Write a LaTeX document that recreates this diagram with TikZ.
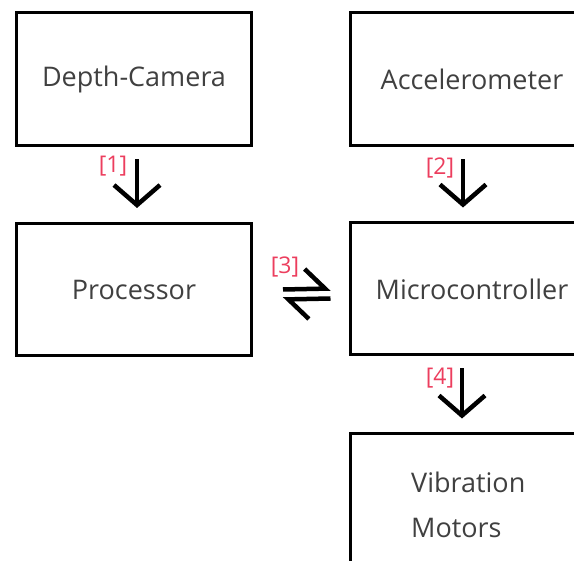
\documentclass[tikz,border=0pt]{standalone}
\usepackage{fontspec}
\setmainfont{Open Sans}
\usetikzlibrary{arrows.meta}
\definecolor{boxtext}{RGB}{64,64,64}
\definecolor{tagred}{RGB}{236,62,94}
\begin{document}
\begin{tikzpicture}[x=1pt,y=-1pt,
  block/.style={draw=black,line width=3pt,rectangle,inner sep=0pt,
    text=boxtext,font=\fontsize{27}{32}\selectfont},
  flow/.style={line width=4.5pt,-{Straight Barb[length=20pt,width=46pt]}},
  harp/.style={line width=4.5pt,-{Straight Barb[harpoon,length=20pt,width=40pt]}},
  tag/.style={text=tagred,inner sep=0pt,font=\fontsize{23}{27}\selectfont}]
\useasboundingbox (0,0) rectangle (574,561);
\clip (0,0) rectangle (574,561);

% left column
\node[block,minimum width=235pt,minimum height=133pt] (cam) at (134,79.5) {Depth-Camera};
\node[block,minimum width=235pt,minimum height=132pt] (proc) at (134,289.5) {Processor};

% right column (boxes run past the right edge)
\node[block,minimum width=244pt,minimum height=133pt] (acc) at (472,79.5) {Accelerometer};
\node[block,minimum width=244pt,minimum height=132pt] (mcu) at (472,289) {Microcontroller};
\node[block,minimum width=244pt,minimum height=140pt] (mot) at (472,504) {};
\node[text=boxtext,font=\fontsize{27}{32}\selectfont,align=left,anchor=north west,
  inner sep=0pt] (mottext) at (411,472) {Vibration\\[13pt]Motors};

% vertical flows
\draw[flow] ([xshift=3pt,yshift=-12pt]cam.south) -- ([xshift=3pt,yshift=14pt]proc.north);
\draw[flow] ([xshift=-9pt,yshift=-12pt]acc.south) -- ([xshift=-9pt,yshift=14pt]mcu.north);
\draw[flow] ([xshift=-10pt,yshift=-12pt]mcu.south) -- ([xshift=-10pt,yshift=14pt]mot.north);

% two-way exchange
\draw[harp] ([xshift=30pt,yshift=0pt]proc.east) -- ([xshift=-18pt,yshift=0.5pt]mcu.west);
\draw[harp] ([xshift=-18pt,yshift=-9.5pt]mcu.west) -- ([xshift=30pt,yshift=-10pt]proc.east);

% step tags
\node[tag] (t1) at (113,166) {[1]};
\node[tag] (t2) at (440,168) {[2]};
\node[tag] (t3) at (285,267) {[3]};
\node[tag] (t4) at (440,378) {[4]};
\end{tikzpicture}
\end{document}
